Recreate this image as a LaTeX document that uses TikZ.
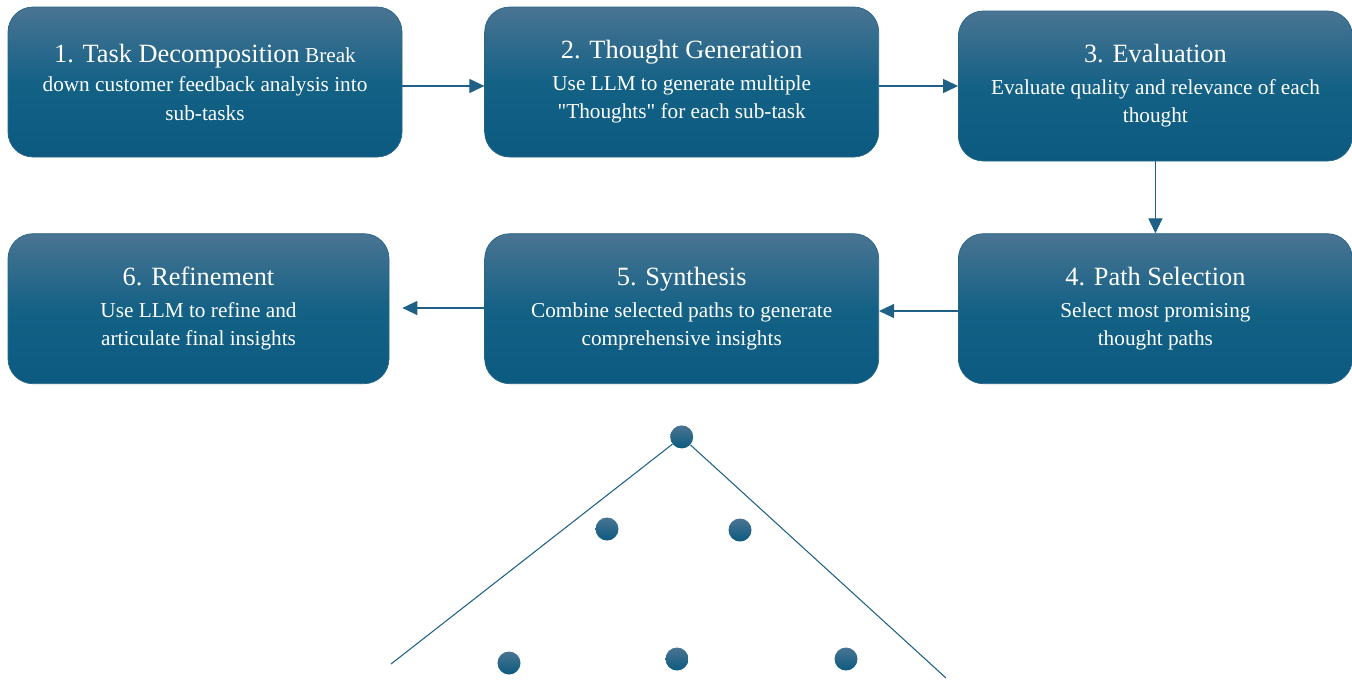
\documentclass[tikz,border=0pt]{standalone}
\usepackage{fontspec}
\setmainfont{Liberation Serif}[Ligatures=TeXOff]
\usetikzlibrary{positioning,arrows.meta}
\definecolor{boxtop}{RGB}{74,116,146}
\definecolor{boxmid}{RGB}{20,97,134}
\definecolor{boxbot}{RGB}{12,90,128}
\definecolor{boxline}{RGB}{38,100,136}
\definecolor{flowline}{RGB}{30,96,134}
\newcommand{\stitle}[1]{{\fontsize{15}{18}\selectfont #1}}

\begin{document}
\begin{tikzpicture}
[node distance=1.6cm, font=\fontsize{12.1}{16}\selectfont,
% STYLES
% The stage style is used for each step of the pipeline
stage/.style={rectangle, rounded corners=0.5cm, draw=boxline, thin, top color=boxtop, bottom color=boxbot, middle color=boxmid, text=white, align=center, minimum width=7.88cm, minimum height=3cm},
% The flow style is used for the links between stages
flow/.style={draw=flowline, line width=0.7pt, -{Triangle[length=0.3cm,width=0.28cm]}},
% The thought style is used for the nodes of the tree
thought/.style={circle, minimum size=0.46cm, inner sep=0pt, top color=boxtop, bottom color=boxbot},
branch/.style={draw=flowline, line width=0.6pt}]

\useasboundingbox (0,0) rectangle (27.04,-13.62);

% Draw stages
\node [stage] (decomp) at (4.10,-1.64) {\stitle{1. Task Decomposition} Break\\[1pt] down customer feedback analysis into\\ sub-tasks};
\node [stage, right=1.64cm of decomp] (generate) {\stitle{2. Thought Generation}\\[2pt] Use LLM to generate multiple\\ "Thoughts" for each sub-task};
\node [stage, right=1.58cm of generate, yshift=-0.08cm] (evaluate) {\stitle{3. Evaluation}\\[2pt] Evaluate quality and relevance of each\\ thought};
\node [stage, below=1.44cm of evaluate] (select) {\stitle{4. Path Selection}\\[2pt] Select most promising\\ thought paths};
\node [stage, left=1.58cm of select] (synth) {\stitle{5. Synthesis}\\[2pt] Combine selected paths to generate\\ comprehensive insights};
\node [stage, minimum width=7.62cm, left=1.9cm of synth] (refine) {\stitle{6. Refinement}\\[2pt] Use LLM to refine and\\ articulate final insights};
\coordinate [right=0.26cm of refine.east] (refine-end);

% Draw the thought tree
\node [thought, below=0.82cm of synth] (root) {};
\node [thought] (mid-l) at (12.14,-10.58) {};
\node [thought] (mid-r) at (14.80,-10.60) {};
\node [thought] (leaf-l) at (10.18,-13.26) {};
\node [thought] (leaf-m) at (13.54,-13.18) {};
\node [thought] (leaf-r) at (16.92,-13.18) {};
\coordinate (branch-l) at (7.82,-13.28);
\coordinate (branch-r) at (18.92,-13.56);

% Draw the links between stages
\path [flow] (decomp.east |- 0,-1.72) -- (generate.west |- 0,-1.72);
\path [flow] (generate.east |- 0,-1.72) -- (evaluate.west |- 0,-1.72);
\path [flow] (evaluate) -- (select);
\path [flow] (select.west |- 0,-6.22) -- (synth.east |- 0,-6.22);
\path [flow] (synth.west |- 0,-6.16) -- (refine-end |- 0,-6.16);

\path [branch] (root) -- (branch-l);
\path [branch] (root) -- (branch-r);

\end{tikzpicture}
\end{document}
